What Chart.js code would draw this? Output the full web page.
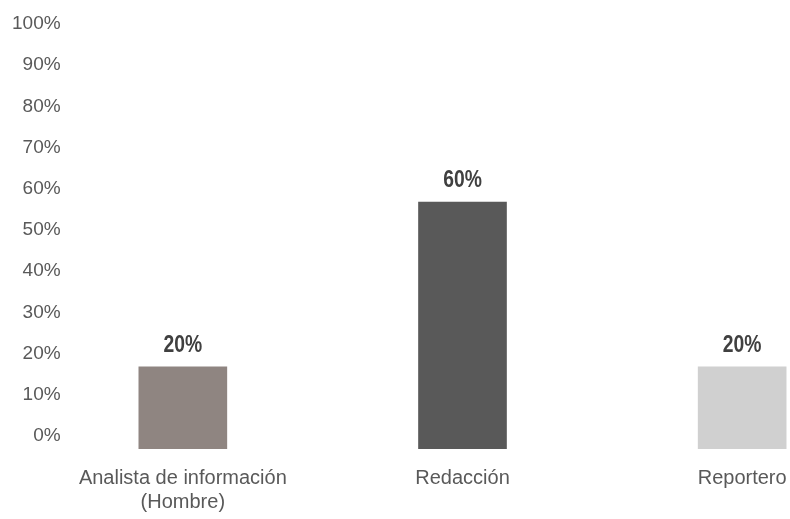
<!DOCTYPE html>
<html>
<head>
<meta charset="utf-8">
<script src="https://cdn.jsdelivr.net/npm/chart.js@4/dist/chart.umd.min.js"></script>
<style>
html,body{margin:0;padding:0;background:#fff;overflow:hidden;}
#wrap{width:882px;height:519px;position:relative;}
</style>
</head>
<body>
<div id="wrap"><canvas id="c"></canvas></div>
<script>
const categories = [['Analista de información', '(Hombre)'], 'Redacción', 'Reportero'];
const values = [20, 60, 20];
const valueLabels = ['20%', '60%', '20%'];
const barColors = ['#8F8581', '#595959', '#D0D0D0'];
const yMax = 100;
const yStep = 10;

const labelPlugin = {
  id: 'valueLabels',
  afterDatasetsDraw(chart) {
    const ctx = chart.ctx;
    const meta = chart.getDatasetMeta(0);
    meta.data.forEach((bar, i) => {
      ctx.save();
      ctx.translate(bar.x, bar.y - 15);
      ctx.scale(0.84, 1);
      ctx.font = 'bold 23px "Liberation Sans Narrow", "Liberation Sans", Arial, sans-serif';
      ctx.fillStyle = '#404040';
      ctx.textAlign = 'center';
      ctx.textBaseline = 'alphabetic';
      ctx.fillText(valueLabels[i], 0, 0);
      ctx.restore();
    });
  }
};

new Chart(document.getElementById('c'), {
  type: 'bar',
  data: {
    labels: categories,
    datasets: [{
      data: values,
      backgroundColor: barColors,
      borderWidth: 0,
      categoryPercentage: 1,
      barPercentage: 0.317
    }]
  },
  options: {
    responsive: true,
    maintainAspectRatio: false,
    animation: false,
    layout: { padding: { left: 43, top: 37, right: 0, bottom: 0 } },
    plugins: { legend: { display: false }, tooltip: { enabled: false } },
    scales: {
      x: {
        grid: { display: false, drawTicks: false },
        border: { display: false },
        ticks: {
          color: '#595959',
          padding: 17,
          maxRotation: 0,
          autoSkip: false,
          font: { family: '"Liberation Sans", Arial, sans-serif', size: 20, lineHeight: 1.2 }
        },
        afterFit(scale) { scale.height = 70; }
      },
      y: {
        min: 0,
        max: yMax,
        grid: { display: false, drawTicks: false },
        border: { display: false },
        ticks: {
          stepSize: yStep,
          mirror: true,
          crossAlign: 'far',
          color: '#595959',
          padding: -31,
          labelOffset: -13,
          font: { family: '"Liberation Sans", Arial, sans-serif', size: 19 },
          callback: function (value) { return value + '%'; }
        },
        afterFit(scale) { scale.width = 0; }
      }
    }
  },
  plugins: [labelPlugin]
});
</script>
</body>
</html>
